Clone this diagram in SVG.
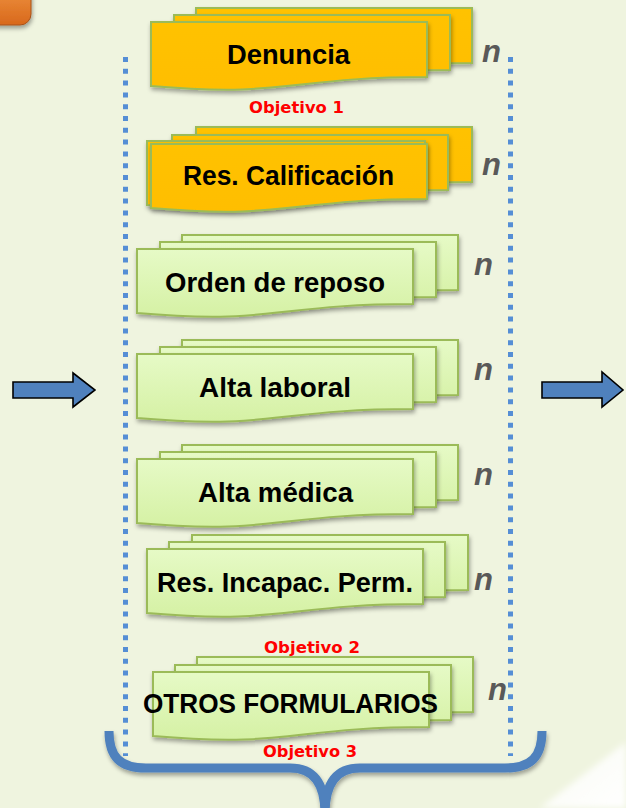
<svg xmlns="http://www.w3.org/2000/svg" xmlns:xlink="http://www.w3.org/1999/xlink" width="626" height="808" viewBox="0 0 626 808">
  <defs>
    <linearGradient id="gGreen" x1="0" y1="0" x2="0" y2="1">
      <stop offset="0" stop-color="#E6FAC6"/>
      <stop offset="1" stop-color="#D5F1A4"/>
    </linearGradient>
    <linearGradient id="gYellow" x1="0" y1="0" x2="0" y2="1">
      <stop offset="0" stop-color="#FFC200"/>
      <stop offset="1" stop-color="#FFBE00"/>
    </linearGradient>
    <linearGradient id="gOrange" x1="0" y1="0" x2="0" y2="1">
      <stop offset="0" stop-color="#F39A45"/>
      <stop offset="1" stop-color="#D8681C"/>
    </linearGradient>
    <linearGradient id="gWedge" x1="0" y1="0" x2="1" y2="1">
      <stop offset="0" stop-color="#FFFFFF" stop-opacity="0.6"/>
      <stop offset="1" stop-color="#FFFFFF" stop-opacity="1"/>
    </linearGradient>
    <filter id="shadow" x="-10%" y="-20%" width="130%" height="160%">
      <feDropShadow dx="1" dy="3" stdDeviation="2.2" flood-color="#000" flood-opacity="0.35"/>
    </filter>
    <filter id="soft" x="-10%" y="-10%" width="120%" height="120%">
      <feGaussianBlur stdDeviation="3"/>
    </filter>
    <path id="doc" d="M0,0 H276 V55 C138,55 138,76 0,64 Z"/>
    <path id="docw" d="M0,0 H278 V55 C139,55 139,76 0,64 Z"/>
  </defs>
  <style>
    .gs { fill: url(#gGreen); stroke: #9BBB59; stroke-width: 2; filter: url(#shadow); }
    .ys { fill: url(#gYellow); stroke: #9BBB59; stroke-width: 2; filter: url(#shadow); }
    .lbl { font-family: "Liberation Sans", Arial, sans-serif; font-weight: bold; font-size: 27px; fill: #000; }
    .nn { font-family: "Liberation Sans", Arial, sans-serif; font-weight: bold; font-style: italic; font-size: 31px; fill: #595959; }
    .obj { font-family: "DejaVu Sans", Verdana, sans-serif; font-weight: bold; font-size: 16.5px; fill: #FF0000; }
    .dots { fill: none; stroke: #558ED5; stroke-width: 5; stroke-dasharray: 5 6.8; }
    .arrow { fill: #4F81BD; stroke: #000; stroke-width: 1.6; }
  </style>

  <rect x="0" y="0" width="626" height="808" fill="#EFF4DF"/>
  <polygon points="540,808 626,742 626,808" fill="url(#gWedge)" filter="url(#soft)"/>

  <g id="corner-tab">
    <rect x="-20" y="-20" width="51" height="45" rx="11" fill="url(#gOrange)" stroke="#A9521A" stroke-width="1" filter="url(#shadow)"/>
  </g>

  <g id="frame">
    <line class="dots" x1="125.5" y1="57" x2="125.5" y2="756"/>
    <line class="dots" x1="510.5" y1="57" x2="510.5" y2="756"/>
  </g>

  <g id="node-denuncia">
    <use href="#doc" class="ys" x="196" y="8"/>
    <use href="#doc" class="ys" x="174" y="15"/>
    <use href="#doc" class="ys" x="151" y="22"/>
    <text class="lbl" x="227" y="64" textLength="123" lengthAdjust="spacingAndGlyphs">Denuncia</text>
    <text class="nn" x="482" y="62">n</text>
  </g>

  <g id="node-res-calificacion">
    <use href="#doc" class="ys" x="196" y="127"/>
    <use href="#doc" class="ys" x="172" y="135"/>
    <use href="#docw" class="ys" x="147" y="141"/>
    <use href="#doc" class="ys" x="151" y="144"/>
    <text class="lbl" x="183" y="185" textLength="211" lengthAdjust="spacingAndGlyphs">Res. Calificación</text>
    <text class="nn" x="482" y="175">n</text>
  </g>

  <g id="node-orden-reposo">
    <use href="#doc" class="gs" x="182" y="235"/>
    <use href="#doc" class="gs" x="160" y="242"/>
    <use href="#doc" class="gs" x="137" y="249"/>
    <text class="lbl" x="165" y="292" textLength="220" lengthAdjust="spacingAndGlyphs">Orden de reposo</text>
    <text class="nn" x="474" y="275">n</text>
  </g>

  <g id="node-alta-laboral">
    <use href="#doc" class="gs" x="182" y="340"/>
    <use href="#doc" class="gs" x="160" y="347"/>
    <use href="#doc" class="gs" x="137" y="354"/>
    <text class="lbl" x="199" y="397" textLength="152" lengthAdjust="spacingAndGlyphs">Alta laboral</text>
    <text class="nn" x="474" y="380">n</text>
  </g>

  <g id="node-alta-medica">
    <use href="#doc" class="gs" x="182" y="445"/>
    <use href="#doc" class="gs" x="160" y="452"/>
    <use href="#doc" class="gs" x="137" y="459"/>
    <text class="lbl" x="198" y="502" textLength="155" lengthAdjust="spacingAndGlyphs">Alta médica</text>
    <text class="nn" x="474" y="485">n</text>
  </g>

  <g id="node-res-incapac">
    <use href="#doc" class="gs" x="192" y="535"/>
    <use href="#doc" class="gs" x="169" y="542"/>
    <use href="#doc" class="gs" x="147" y="549"/>
    <text class="lbl" x="157" y="592" textLength="256" lengthAdjust="spacingAndGlyphs">Res. Incapac. Perm.</text>
    <text class="nn" x="474" y="590">n</text>
  </g>

  <g id="node-otros">
    <use href="#doc" class="gs" x="197" y="657"/>
    <use href="#doc" class="gs" x="175" y="665"/>
    <use href="#doc" class="gs" x="153" y="672"/>
    <text class="lbl" x="143" y="713" textLength="295" lengthAdjust="spacingAndGlyphs">OTROS FORMULARIOS</text>
    <text class="nn" x="488" y="700">n</text>
  </g>

  <g id="objectives">
    <text class="obj" x="249" y="113" textLength="95" lengthAdjust="spacingAndGlyphs">Objetivo 1</text>
    <text class="obj" x="264" y="653" textLength="96" lengthAdjust="spacingAndGlyphs">Objetivo 2</text>
    <text class="obj" x="263" y="757" textLength="94" lengthAdjust="spacingAndGlyphs">Objetivo 3</text>
  </g>

  <g id="connectors">
    <polygon class="arrow" points="13,382 73,382 73,373 95,390 73,407 73,398 13,398"/>
    <polygon class="arrow" points="542,382 602,382 602,372 623,390 602,407 602,398 542,398"/>
    <path d="M109,731 C109,757 120,768 146,768 L290,768 C314,768 325,784 325,814 C325,784 336,768 360,768 L505,768 C531,768 542,757 542,731" fill="none" stroke="#4F81BD" stroke-width="9" filter="url(#shadow)"/>
  </g>
</svg>
